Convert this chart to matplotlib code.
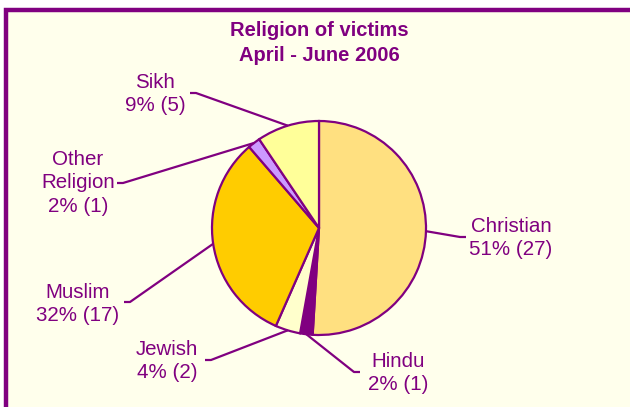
import matplotlib.pyplot as plt
from matplotlib.patches import Rectangle
import numpy as np

# data
religions = ["Christian", "Hindu", "Jewish", "Muslim", "Other\nReligion", "Sikh"]
counts = [27, 1, 2, 17, 1, 5]
percents = [51, 2, 4, 32, 2, 9]
colors = ["#FFE080", "#800080", "#FFFFCC", "#FFCC00", "#CC99FF", "#FFFF99"]

purple = "#800080"
W, H = 630, 407
cx, cy, R = 319, 228, 107  # pie centre / radius in pixels


def px(x, y):
    # pixel position -> data coords (pie radius = 1)
    return (x - cx) / R, (cy - y) / R


fig = plt.figure(figsize=(6.3, 4.07), dpi=100)
fig.patch.set_facecolor("white")
ax = fig.add_axes([0, 0, 1, 1])

wedges, _ = ax.pie(counts, colors=colors, startangle=90, counterclock=False,
                   radius=1, center=(0, 0), frame=True,
                   wedgeprops=dict(edgecolor=purple, linewidth=1.6))
ax.set_xlim(-cx / R, (W - cx) / R)
ax.set_ylim(-(H - cy) / R, cy / R)
ax.set_aspect("auto")
ax.axis("off")

# chart frame
x0, y0 = px(6, 10)
x1, y1 = px(650, 410)
ax.add_patch(Rectangle((x0, y1), x1 - x0, y0 - y1, facecolor="#FFFFEC",
                       edgecolor=purple, linewidth=3.2, zorder=0))

# label layout: text centre (px), leader start (px), tick direction
label_pos = [(511, 238), (398, 373), (167, 361), (78, 304), (78, 183), (155, 94)]
leader_start = [(466, 237), (360, 372), (205, 360), (124, 302), (117, 183), (190, 93)]
tick = [-6, -6, 6, 6, 6, 6]

for w, name, p, c, lp, ls, tk in zip(wedges, religions, percents, counts,
                                      label_pos, leader_start, tick):
    mid = np.deg2rad((w.theta1 + w.theta2) / 2)
    ex, ey = np.cos(mid), np.sin(mid)
    sx, sy = px(*ls)
    tx, ty = px(ls[0] + tk, ls[1])
    ax.plot([sx, tx, ex], [sy, ty, ey], color=purple, lw=1.6,
            solid_capstyle="butt", zorder=1)
    lx, ly = px(*lp)
    ax.text(lx, ly, f"{name}\n{p}% ({c})", ha="center", va="center",
            color=purple, fontsize=14.8, family="Liberation Sans",
            linespacing=1.33)

tx, ty = px(319, 43)
ax.text(tx, ty, "Religion of victims\nApril - June 2006", ha="center",
        va="center", color=purple, fontsize=14.5, fontweight="bold",
        family="Liberation Sans", linespacing=1.45)

fig.savefig("out.png", dpi=100, facecolor="white")
